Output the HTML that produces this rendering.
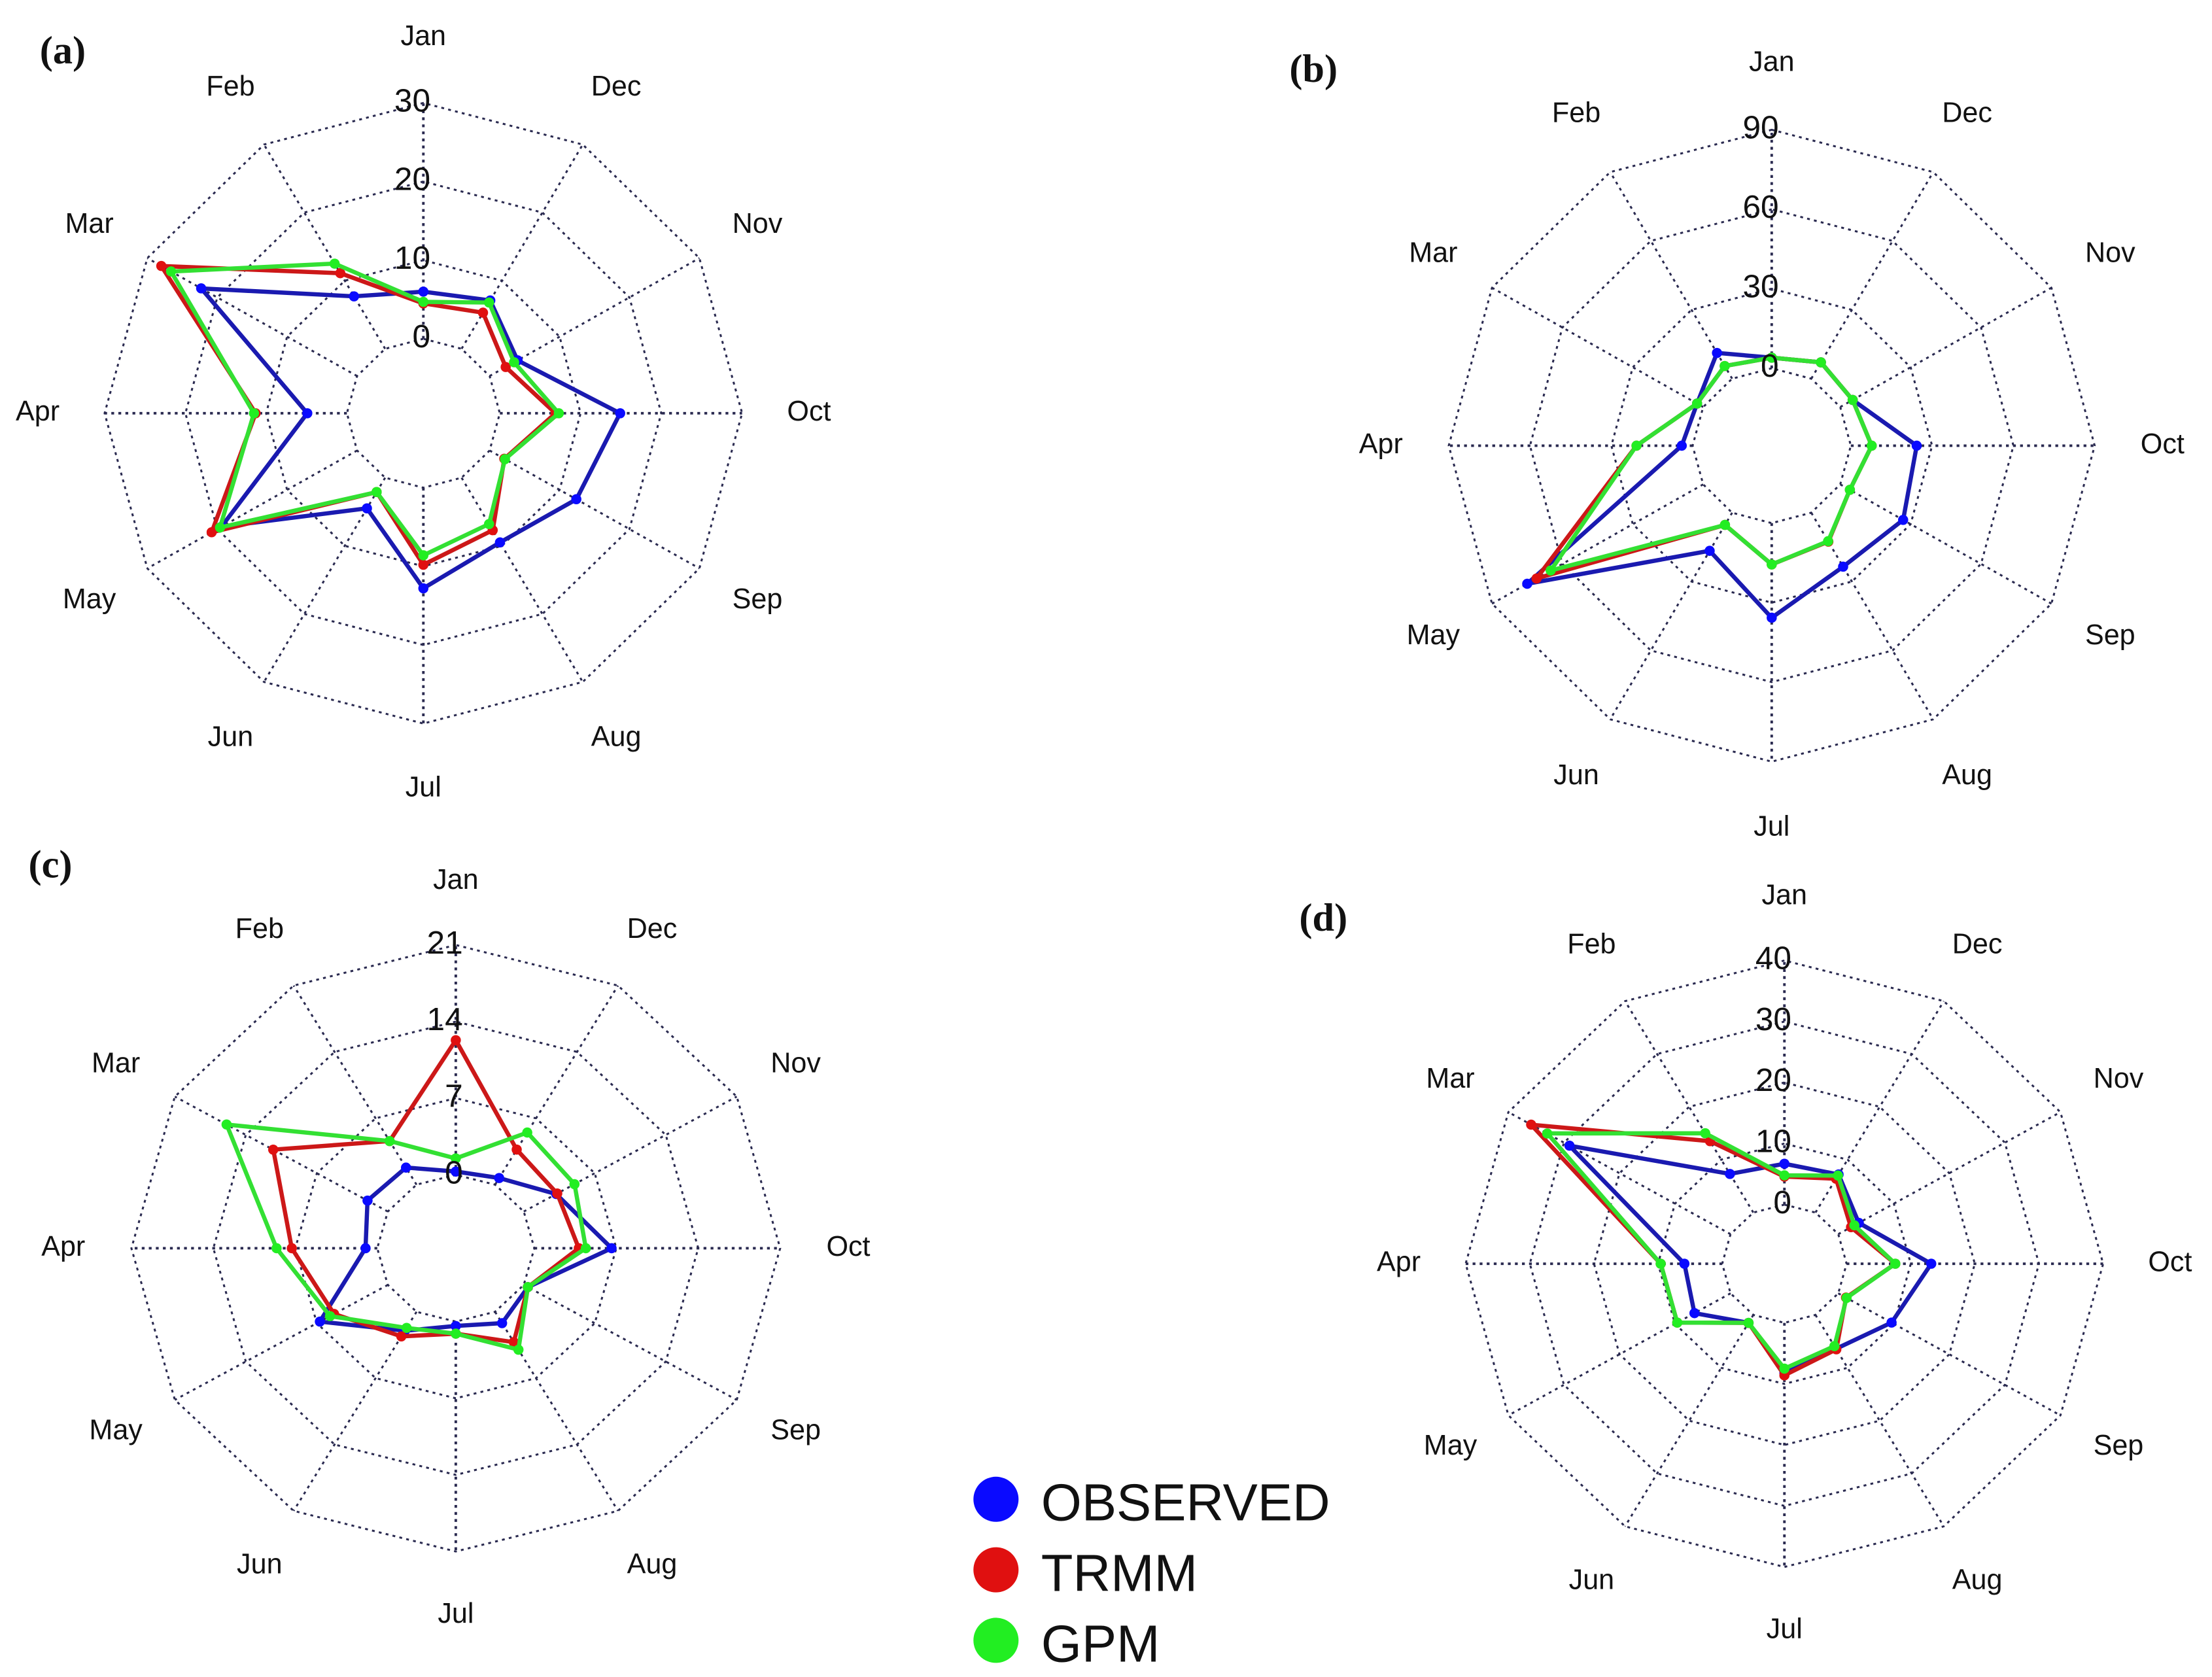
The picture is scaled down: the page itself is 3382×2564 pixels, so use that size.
<!DOCTYPE html>
<html><head><meta charset="utf-8"><style>
html,body{margin:0;padding:0;background:#fff;}
svg{display:block;}
</style></head><body>
<svg id="fig" xmlns="http://www.w3.org/2000/svg" width="3382" height="2564" viewBox="0 0 1568 1189" font-family="Liberation Sans, sans-serif">
<rect x="0" y="0" width="1568" height="1189" fill="#fff"/>
<g id="legend">
  <g><circle cx="706" cy="1063" r="16" fill="#0a0aff"/><text x="738" y="1078" font-size="37" fill="#111">OBSERVED</text></g>
  <g><circle cx="706" cy="1113" r="16" fill="#e01010"/><text x="738" y="1128" font-size="37" fill="#111">TRMM</text></g>
  <g><circle cx="706" cy="1163" r="16" fill="#22ee22"/><text x="738" y="1178" font-size="37" fill="#111">GPM</text></g>
</g>
</svg>
<script>
const months = ["Jan","Feb","Mar","Apr","May","Jun","Jul","Aug","Sep","Oct","Nov","Dec"];
const ticksA = [0,10,20,30];
const ticksB = [0,30,60,90];
const ticksC = [0,7,14,21];
const ticksD = [0,10,20,30,40];
const obsA  = [6,7.7,22.3,4.9,19.4,4.5,12.8,9.5,12.4,14.9,4.0,7.1];
const trmmA = [4.5,11.1,28,11.3,20.8,2.1,9.8,7.7,2.1,6.9,2.3,5.3];
const gpmA  = [4.7,12.5,26.6,11.5,19.6,2.1,8.6,6.8,2.2,7.3,3.5,6.8];
const obsB  = [4,11.2,2.6,4,75,16.6,35.7,23.5,26.8,24.3,5.3,7.1];
const trmmB = [4,5.5,2.6,20.7,71,5.3,15.6,12.6,4.1,7.7,5.3,7.1];
const gpmB  = [4,5.5,2.6,20.7,65,5.3,15.6,12.4,4.1,7.7,5.3,7.1];
const obsC  = [0.3,1.8,2.0,1.0,6.7,2.0,0.4,1.2,0.4,6.6,3.2,0.7];
const trmmC = [12.3,4.6,11.3,7.3,5.3,2.6,1.1,3.2,0.4,3.8,3.3,3.7];
const gpmC  = [1.5,4.6,15.9,8.6,5.7,1.7,1.1,4.0,0.4,4.4,5.0,5.5];
const obsD  = [6.7,7.3,29,5.9,6.5,1.5,8.2,6.4,9.6,13.2,3.7,7.2];
const trmmD = [4.6,13.5,35.9,9.6,9.6,1.5,8.6,6.5,1.4,7.6,2.3,6.4];
const gpmD  = [4.8,15,33,9.6,9.6,1.5,7.5,5.9,1.5,7.6,2.9,7.0];

const NS="http://www.w3.org/2000/svg";
const svg=document.getElementById('fig');
const legend=document.getElementById('legend');
function mk(tag,attrs,parent){const e=document.createElementNS(NS,tag);for(const k in attrs)e.setAttribute(k,attrs[k]);parent.appendChild(e);return e;}

function radar(id,cfg,ticks,series){
  const g=mk('g',{},svg);
  
  
  const max=ticks[ticks.length-1];
  const pt=(v,i,sc)=>{const a=(90+30*i)*Math.PI/180;const f=(cfg.f0+(1-cfg.f0)*v/max)*(sc||1);return [cfg.cx+cfg.rx*f*Math.cos(a),cfg.cy-cfg.ry*f*Math.sin(a)];};
  ticks.forEach(t=>{
    const pts=months.map((m,i)=>pt(t,i).map(n=>n.toFixed(1)).join(',')).join(' ');
    const p=mk('polygon',{points:pts,fill:'none',stroke:'#2a2a50','stroke-width':1.4,'stroke-dasharray':'2,3'},g);
    
    
  });
  months.forEach((m,i)=>{
    const a=pt(0,i),b=pt(max,i);
    const l=mk('line',{x1:a[0],y1:a[1],x2:b[0],y2:b[1],stroke:'#2a2a50','stroke-width':(i%3===0)?1.8:1.4,'stroke-dasharray':'2,3'},g);
    
    
    const lp=pt(max,i,1.21);
    const tx=mk('text',{x:lp[0],y:lp[1],'font-size':20,'text-anchor':'middle','dominant-baseline':'middle',fill:'#111'},g);
    tx.textContent=m;
    
    
  });
  series.forEach(s=>{
    const pts=s.vals.map((v,i)=>pt(v,i));
    const pl=mk('polygon',{points:pts.map(p=>p[0].toFixed(1)+','+p[1].toFixed(1)).join(' '),fill:'none',stroke:s.line,'stroke-width':3,'stroke-linejoin':'round'},g);
    
    
    pts.forEach((p,i)=>{
      const c=mk('circle',{cx:p[0],cy:p[1],r:3.6,fill:s.mark},g);
      
      
    });
  });
  ticks.forEach(t=>{
    const p=pt(t,0);
    const tx=mk('text',{x:cfg.cx+5,y:p[1],'font-size':23,'text-anchor':'end','dominant-baseline':'middle',fill:'#111'},g);
    tx.textContent=String(t);
    
    
  });
  const lt=mk('text',{x:cfg.lx,y:cfg.ly,'font-size':28,'font-weight':'bold','font-family':'Liberation Serif, serif',fill:'#111'},g);
  lt.textContent='('+id+')';
  
  
}
const mkS=(o,t,gp)=>[{name:'observed',vals:o,line:'#1a1ab0',mark:'#0a0aff'},{name:'trmm',vals:t,line:'#cc1818',mark:'#e01010'},{name:'gpm',vals:gp,line:'#33e033',mark:'#22ee22'}];
radar('a',{cx:300,cy:293,rx:226,ry:220,f0:0.24,lx:28,ly:45},ticksA,mkS(obsA,trmmA,gpmA));
radar('b',{cx:1256,cy:316,rx:229,ry:224,f0:0.245,lx:914,ly:58},ticksB,mkS(obsB,trmmB,gpmB));
radar('c',{cx:323,cy:885,rx:230,ry:215,f0:0.242,lx:20,ly:622},ticksC,mkS(obsC,trmmC,gpmC));
radar('d',{cx:1265,cy:896,rx:226,ry:215,f0:0.195,lx:921,ly:660},ticksD,mkS(obsD,trmmD,gpmD));
svg.appendChild(legend);
</script>
</body></html>
